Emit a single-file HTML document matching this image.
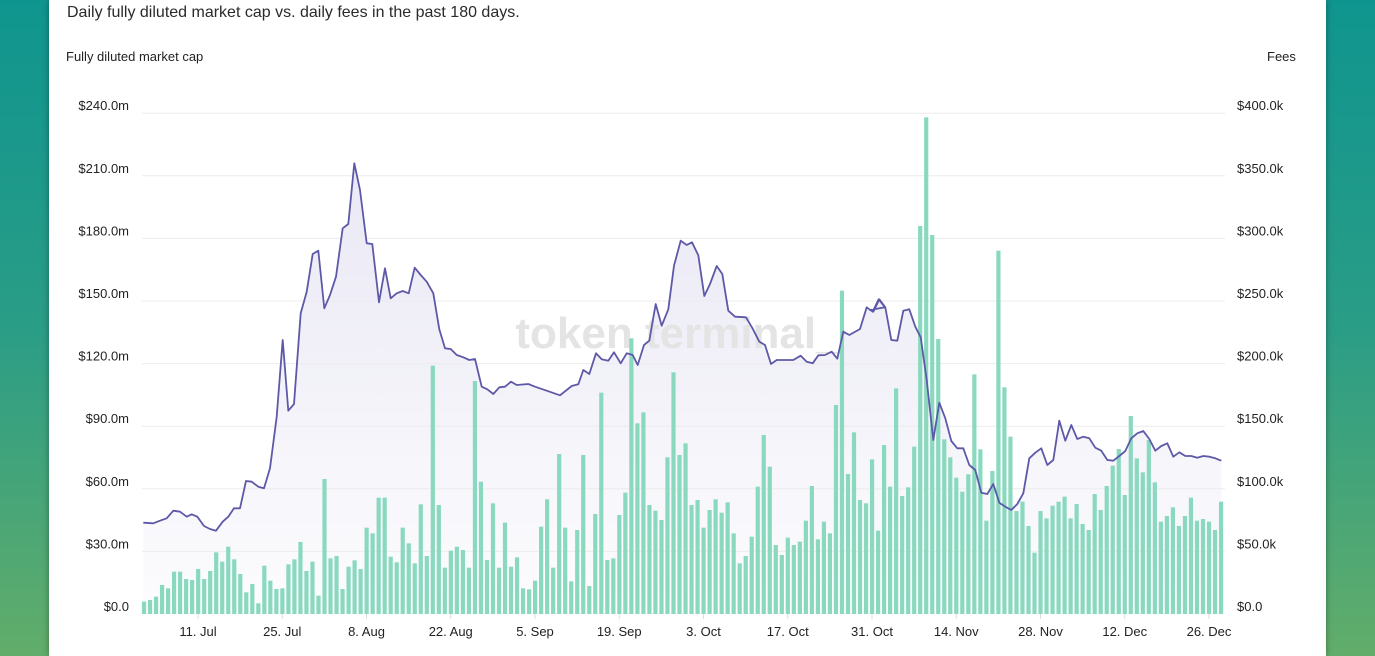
<!DOCTYPE html>
<html><head><meta charset="utf-8"><style>
html,body{margin:0;padding:0;width:1375px;height:656px;overflow:hidden;font-family:"Liberation Sans",sans-serif;}
body{background:linear-gradient(180deg,#0f958f 0%,#2a9d86 50%,#62ad6a 100%);position:relative;}
.card{position:absolute;left:49px;top:0;width:1277px;height:656px;background:#fff;box-shadow:0 0 6px rgba(0,0,0,.35);}
.t{position:absolute;white-space:nowrap;color:#222;}
</style></head><body>
<div class="card"></div>
<div class="t" style="left:67px;top:4px;font-size:16px;color:#2a2a2a;">Daily fully diluted market cap vs. daily fees in the past 180 days.</div>
<div class="t" style="left:66px;top:49px;font-size:13px;">Fully diluted market cap</div>
<div class="t" style="left:1267px;top:49px;font-size:13px;">Fees</div>
<svg id="s" width="1375" height="656" style="position:absolute;left:0;top:0" xmlns="http://www.w3.org/2000/svg">
<defs><linearGradient id="g" x1="0" y1="0" x2="0" y2="1"><stop offset="0" stop-color="#7a72c0" stop-opacity="0.16"/><stop offset="1" stop-color="#7a72c0" stop-opacity="0.02"/></linearGradient></defs>
<text x="678" y="348" font-family="Liberation Sans,sans-serif" font-weight="bold" font-size="44" fill="#e4e4e4" text-anchor="middle">token terminal_</text>
</svg>
<script>
var s=document.getElementById('s'),NS='http://www.w3.org/2000/svg';
function el(t,a,txt){var e=document.createElementNS(NS,t);for(var k in a)e.setAttribute(k,a[k]);if(txt)e.textContent=txt;s.appendChild(e);return e;}
var L=['$0.0','$30.0m','$60.0m','$90.0m','$120.0m','$150.0m','$180.0m','$210.0m','$240.0m'];
var R=['$0.0','$50.0k','$100.0k','$150.0k','$200.0k','$250.0k','$300.0k','$350.0k','$400.0k'];
for(var k=0;k<9;k++){var y=614-k*62.6;
 if(k>0)el('line',{x1:142,x2:1225,y1:y,y2:y,stroke:'#ececec','stroke-width':1});
 el('text',{x:129,y:y-3,'font-size':13,'text-anchor':'end',fill:'#222','font-family':'Liberation Sans,sans-serif'},L[k]);
 el('text',{x:1237,y:y-3,'font-size':13,fill:'#222','font-family':'Liberation Sans,sans-serif'},R[k]);}
var X=['11. Jul','25. Jul','8. Aug','22. Aug','5. Sep','19. Sep','3. Oct','17. Oct','31. Oct','14. Nov','28. Nov','12. Dec','26. Dec'];
for(var i=0;i<13;i++){var x=198+i*84.25;el('line',{x1:x,x2:x,y1:614,y2:619,stroke:'#ddd'});
 el('text',{x:x,y:636,'font-size':13,'text-anchor':'middle',fill:'#222','font-family':'Liberation Sans,sans-serif'},X[i]);}
var z1=[1505,1500,1490,1455,1465,1415,1415,1437,1440,1407,1437,1413,1357,1385,1340,1378,1422,1477,1452,1510,1397,1442,1467,1465,1393,1378,1326,1413,1385,1487,1137,1375,1368,1467,1400,1381,1407,1283,1300,1193,1193,1370,1387,1283,1330,1390,1213,1368,797,1215,1403,1352,1340,1350,1403,843,1145,1380,1210,1403,1268,1400,1372];
var z2=[1465,1468,1442,1280,1198,1403,1062,1283,1444,1290,1065,1458,1242,878,1380,1375,1245,1178,715,970,937,1215,1232,1260,1072,817,1065,1030,1215,1200,1283,1230,1198,1238,1207,1300,1390,1368,1310,1160,1005,1100,1335,1365,1313,1335,1325,1262,1158,1318,1265,1300,915,572,1122,997,1200,1210,1078,1292,1035,1160];
var z3=[865,1188,1162,1040,378,52,405,717,1018,1072,1133,1175,1123,823,1048,1262,1113,452,862,1010,1233,1205,1278,1358,1233,1255,1217,1205,1190,1255,1212,1272,1290,1182,1230,1158,1097,1047,1185,948,1075,1117,1020,1147,1265,1248,1222,1278,1248,1193,1262,1257,1265,1290,1205];
var b=z1.concat(z2).concat(z3);
for(var i=0;i<b.length;i++){var x=144+i*6.017,y=100+b[i]/3;el('rect',{x:x-2.1,y:y,width:4.2,height:614-y,fill:'#8ad9bf'});}
var l1=[[10,1268],[40,1270],[60,1262],[80,1255],[100,1232],[120,1235],[140,1250],[155,1243],[172,1250],[192,1278],[210,1287],[228,1292],[248,1265],[265,1250],[282,1225],[300,1225],[318,1143],[335,1145],[355,1160],[372,1165],[390,1105],[410,950],[428,720],[445,932],[462,912],[482,640],[500,575],[518,462],[535,452],[553,625],[570,585],[588,530],[608,385],[625,372],[643,190],[660,270],[680,430],[697,432],[717,607],[735,505],[752,595],[770,580],[788,573],[806,580],[824,503],[842,525],[860,545],[880,580],[898,688],[915,745],[932,747],[950,765],[970,772],[988,780],[1005,777],[1025,860],[1042,868],[1060,882],[1078,862],[1095,860],[1113,845],[1130,855]];
var l2=[[20,855],[55,852],[75,860],[110,872],[150,886],[185,858],[205,853],[220,810],[238,822],[258,760],[275,778],[295,782],[312,757],[332,790],[350,760],[368,765],[383,795],[402,735],[418,722],[437,612],[455,677],[475,628],[492,497],[512,422],[530,435],[546,427],[565,466],[583,588],[600,552],[620,498],[637,522],[655,632],[675,650],[708,652],[728,686],[748,725],[765,735],[783,792],[800,780],[850,780],[872,767],[890,785],[908,790],[925,766],[945,765],[965,755],[982,776],[1000,695],[1018,705],[1050,687],[1070,622],[1088,635],[1106,598],[1125,622]];
var l3=[[0,630],[10,635],[28,598],[46,622],[64,720],[82,722],[100,632],[118,628],[136,680],[152,712],[170,840],[190,1020],[208,908],[226,955],[244,1023],[262,1045],[280,1045],[298,1095],[316,1110],[334,1178],[352,1182],[370,1152],[388,1208],[406,1220],[424,1230],[442,1212],[460,1180],[478,1075],[496,1058],[514,1045],[532,1095],[550,1080],[568,962],[586,1022],[604,975],[622,1017],[640,1010],[658,1015],[676,1043],[694,1052],[712,1080],[730,1082],[748,1068],[766,1053],[784,1015],[802,1000],[820,993],[838,1017],[856,1052],[874,1038],[892,1030],[910,1070],[928,1057],[946,1068],[964,1068],[982,1073],[1000,1068],[1018,1070],[1036,1075],[1054,1082]];
var p=[];l1.forEach(function(q){p.push([140+q[0]/3,100+q[1]/3]);});l2.forEach(function(q){p.push([510+q[0]/3,100+q[1]/3]);});l3.forEach(function(q){p.push([870+q[0]/3,100+q[1]/3]);});
var d=p.map(function(q,i){return (i?'L':'M')+q[0].toFixed(1)+' '+q[1].toFixed(1);}).join('');
var area=el('path',{d:d+'L'+p[p.length-1][0].toFixed(1)+' 614L'+p[0][0].toFixed(1)+' 614Z',fill:'url(#g)'});
s.insertBefore(area,s.children[1]);
el('path',{d:d,fill:'none',stroke:'#5d59a8','stroke-width':1.8,'stroke-linejoin':'round'});
</script>
</body></html>
